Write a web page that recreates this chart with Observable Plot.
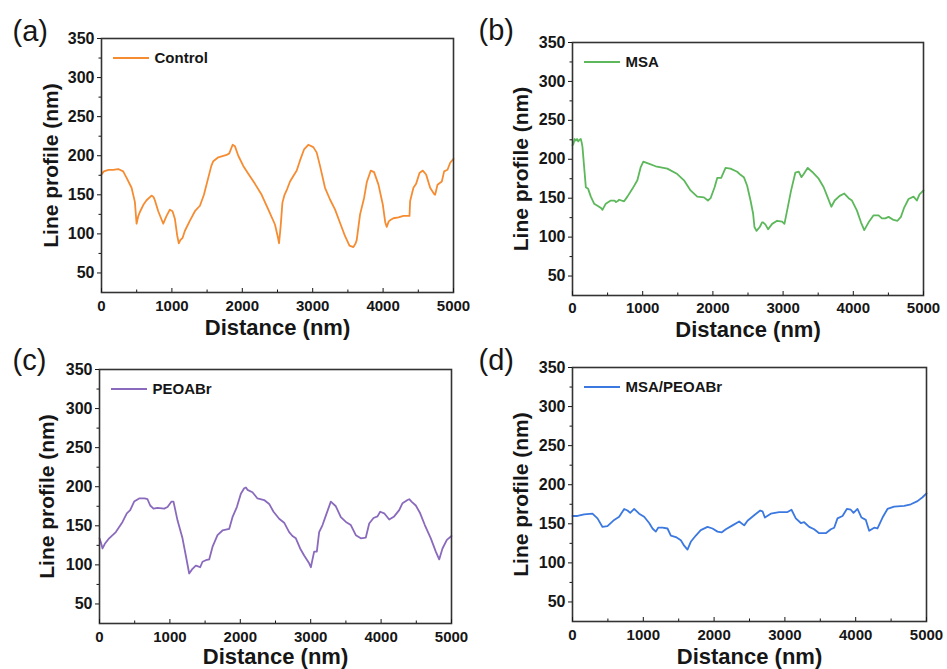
<!DOCTYPE html>
<html>
<head>
<meta charset="utf-8">
<script src="https://cdn.jsdelivr.net/npm/d3@7"></script>
<script src="https://cdn.jsdelivr.net/npm/@observablehq/plot@0.6"></script>
<style>
  body { margin: 0; background: #fff; }
  #wrap { position: relative; width: 947px; height: 669px; overflow: hidden; background: #fff;
          font-family: "Liberation Sans", Arial, sans-serif; }
  .panel { position: absolute; }
  .panel svg { overflow: visible; }
</style>
</head>
<body>
<div id="wrap"></div>
<script>
// ---------- data ----------
const xTicks = [0, 1000, 2000, 3000, 4000, 5000];
const xMinorTicks = [500, 1500, 2500, 3500, 4500];
const yTicks = [50, 100, 150, 200, 250, 300, 350];
const yMinorTicks = [75, 125, 175, 225, 275, 325];
const xDomain = [0, 5000];
const yDomain = [25, 350];
const xLabel = "Distance (nm)";
const yLabel = "Line profile (nm)";
const panelLetters = ["(a)", "(b)", "(c)", "(d)"];
const seriesNames = ["Control", "MSA", "PEOABr", "MSA/PEOABr"];

// [distance (nm), height (nm)]
const controlProfile = [[0,176],[33,180],[100,182],[166,182],[237,183],[308,180],[355,172],[427,159],[474,141],[498,113],[520,122],[545,128],[600,138],[640,143],[711,149],[740,147],[758,143],[806,129],[850,119],[877,113],[924,123],[971,131],[1009,129],[1043,119],[1075,98],[1098,88],[1120,92],[1152,95],[1185,104],[1256,117],[1327,129],[1398,136],[1455,150],[1517,172],[1560,187],[1588,193],[1659,198],[1777,201],[1815,203],[1863,214],[1896,212],[1943,200],[2014,187],[2085,177],[2180,164],[2275,150],[2370,131],[2464,112],[2505,96],[2522,88],[2545,110],[2570,140],[2600,150],[2640,158],[2678,167],[2725,174],[2773,181],[2820,194],[2877,208],[2938,214],[3009,211],[3057,204],[3104,187],[3175,159],[3246,144],[3318,131],[3389,114],[3460,97],[3522,85],[3578,83],[3610,88],[3625,92],[3673,125],[3730,146],[3768,166],[3825,181],[3872,179],[3934,163],[3995,138],[4030,115],[4052,109],[4080,116],[4109,118],[4147,120],[4218,121],[4289,123],[4375,123],[4384,142],[4431,159],[4469,164],[4517,178],[4564,181],[4611,176],[4668,159],[4725,151],[4739,150],[4773,163],[4834,167],[4867,180],[4915,182],[4953,191],[5000,196]];

const msaProfile = [[0,218],[14,220],[30,226],[47,224],[65,226],[81,223],[100,225],[118,226],[130,222],[142,216],[166,190],[190,164],[223,162],[261,152],[308,143],[379,139],[410,137],[427,135],[474,143],[545,147],[600,147],[616,145],[640,146],[664,148],[735,146],[782,152],[853,162],[924,173],[972,190],[1009,197],[1066,195],[1185,191],[1351,188],[1493,181],[1588,173],[1682,160],[1777,152],[1872,151],[1929,147],[1967,150],[2024,164],[2062,176],[2118,176],[2180,189],[2251,188],[2346,184],[2393,180],[2441,177],[2488,166],[2536,147],[2573,130],[2592,113],[2621,108],[2668,113],[2700,119],[2715,119],[2749,116],[2787,110],[2844,117],[2915,121],[2986,120],[3019,117],[3057,134],[3114,160],[3175,183],[3223,184],[3261,177],[3294,181],[3351,189],[3412,184],[3507,175],[3578,164],[3635,151],[3687,139],[3735,147],[3806,153],[3872,156],[3934,150],[3981,147],[4052,134],[4109,119],[4156,109],[4218,119],[4289,128],[4360,128],[4408,124],[4455,124],[4502,126],[4574,122],[4630,121],[4678,126],[4725,138],[4787,149],[4858,152],[4905,147],[4943,155],[5000,160]];

const peoabrProfile = [[0,134],[19,129],[43,121],[76,127],[137,134],[232,142],[327,155],[388,166],[436,170],[492,181],[563,185],[640,185],[682,184],[720,176],[767,172],[824,173],[919,172],[966,174],[1023,181],[1051,181],[1108,157],[1179,134],[1226,112],[1274,89],[1321,95],[1368,99],[1400,98],[1430,97],[1463,104],[1510,106],[1558,107],[1605,123],[1676,138],[1747,144],[1842,146],[1889,161],[1951,174],[2008,191],[2055,198],[2080,199],[2102,196],[2173,193],[2244,185],[2339,183],[2410,178],[2472,168],[2552,159],[2623,154],[2694,142],[2741,137],[2789,134],[2850,121],[2907,112],[2978,102],[3002,97],[3049,117],[3087,117],[3120,142],[3168,151],[3215,163],[3286,181],[3357,175],[3428,161],[3500,155],[3570,151],[3641,138],[3712,134],[3783,135],[3831,153],[3892,160],[3949,162],[3987,168],[4044,166],[4115,158],[4186,162],[4257,170],[4304,179],[4375,183],[4400,184],[4432,181],[4493,176],[4555,166],[4621,151],[4706,134],[4777,117],[4825,107],[4872,121],[4934,132],[5000,137]];

const msaPeoabrProfile = [[0,160],[71,160],[165,162],[282,163],[353,157],[424,146],[494,147],[589,155],[659,159],[730,169],[777,167],[815,164],[871,169],[941,163],[1012,159],[1083,151],[1130,144],[1177,140],[1210,145],[1271,145],[1342,144],[1389,135],[1460,133],[1530,129],[1577,122],[1624,117],[1671,127],[1742,135],[1812,142],[1907,146],[1977,144],[2048,140],[2105,139],[2166,143],[2260,148],[2354,153],[2425,148],[2472,154],[2566,161],[2651,167],[2684,166],[2717,158],[2801,163],[2919,165],[3037,165],[3093,168],[3154,157],[3225,151],[3272,152],[3343,146],[3413,143],[3484,138],[3578,138],[3649,143],[3696,145],[3743,157],[3814,160],[3875,169],[3931,168],[3969,164],[4025,169],[4082,158],[4143,155],[4190,141],[4261,145],[4308,144],[4379,158],[4449,169],[4543,172],[4685,173],[4779,175],[4873,179],[4944,184],[5000,189]];

const profiles = [controlProfile, msaProfile, peoabrProfile, msaPeoabrProfile];

// ---------- styles & layout ----------
const seriesColors = ["#f68c32", "#5cb85a", "#8a6abd", "#3b78e0"];
const layout = [
  {left: 0,   top: 0,   width: 470, height: 335, mt: 38, mr: 17, mb: 43, ml: 101, letterDx: -89, letterDy: 2,  yLabelDx: -44, xLabelDy: 42, tickPad: 8},
  {left: 470, top: 0,   width: 477, height: 335, mt: 42, mr: 24, mb: 40, ml: 102, letterDx: -94, letterDy: -3, yLabelDx: -45, xLabelDy: 41, tickPad: 7},
  {left: 0,   top: 335, width: 470, height: 334, mt: 34, mr: 19, mb: 46, ml: 99,  letterDx: -87, letterDy: 0,  yLabelDx: -46, xLabelDy: 40, tickPad: 8},
  {left: 470, top: 335, width: 477, height: 334, mt: 32, mr: 21, mb: 48, ml: 102, letterDx: -94, letterDy: 2,  yLabelDx: -45, xLabelDy: 42, tickPad: 8}
];
const ink = "#161616";
const font = "Liberation Sans, Arial, sans-serif";
const plainNumber = d => String(d);

function legendLine(color) {
  return (index, scales, values, dims) => {
    const g = d3.create("svg:g");
    g.append("line")
      .attr("x1", dims.marginLeft + 12).attr("x2", dims.marginLeft + 48)
      .attr("y1", dims.marginTop + 20).attr("y2", dims.marginTop + 20)
      .attr("stroke", color).attr("stroke-width", 2);
    return g.node();
  };
}

const wrap = document.getElementById("wrap");
profiles.forEach((profile, i) => {
  const L = layout[i];
  const color = seriesColors[i];
  const data = profile.map(([x, y]) => ({x, y}));
  const chart = Plot.plot({
    width: L.width, height: L.height,
    marginTop: L.mt, marginRight: L.mr, marginBottom: L.mb, marginLeft: L.ml,
    x: {domain: xDomain},
    y: {domain: yDomain},
    style: {fontFamily: font, background: "transparent", overflow: "visible", color: ink},
    marks: [
      Plot.line(data, {x: "x", y: "y", stroke: color, strokeWidth: 1.8}),
      Plot.frame({stroke: "#333", strokeWidth: 1.6}),
      Plot.axisY({ticks: yTicks, tickFormat: plainNumber, tickSize: 4, tickPadding: 3, fontSize: 16, fontWeight: "bold", label: null, color: ink}),
      Plot.axisY({ticks: yMinorTicks, tickSize: 2.5, text: null, label: null, color: ink}),
      Plot.axisX({ticks: xTicks, tickFormat: plainNumber, tickSize: 0, tickPadding: L.tickPad, fontSize: 15, fontWeight: "bold", label: null, color: ink}),
      Plot.axisX({ticks: xTicks, tickSize: -4, text: null, label: null, color: ink}),
      Plot.axisX({ticks: xMinorTicks, tickSize: -2.5, text: null, label: null, color: ink}),
      Plot.text([yLabel], {text: d => d, frameAnchor: "left", rotate: -90, dx: L.yLabelDx, lineAnchor: "bottom", textAnchor: "middle", fontSize: 21, fontWeight: "bold", fill: ink}),
      Plot.text([xLabel], {text: d => d, frameAnchor: "bottom", dy: L.xLabelDy, lineAnchor: "bottom", textAnchor: "middle", fontSize: 22, fontWeight: "bold", fill: ink}),
      Plot.text([panelLetters[i]], {text: d => d, frameAnchor: "top-left", dx: L.letterDx, dy: L.letterDy, lineAnchor: "bottom", textAnchor: "start", fontSize: 29, fill: ink}),
      legendLine(color),
      Plot.text([seriesNames[i]], {text: d => d, frameAnchor: "top-left", dx: 53, dy: 20, lineAnchor: "middle", textAnchor: "start", fontSize: 15, fontWeight: "bold", fill: ink})
    ]
  });
  const div = document.createElement("div");
  div.className = "panel";
  div.style.left = L.left + "px";
  div.style.top = L.top + "px";
  div.style.width = L.width + "px";
  div.style.height = L.height + "px";
  div.appendChild(chart);
  wrap.appendChild(div);
});
</script>
</body>
</html>
